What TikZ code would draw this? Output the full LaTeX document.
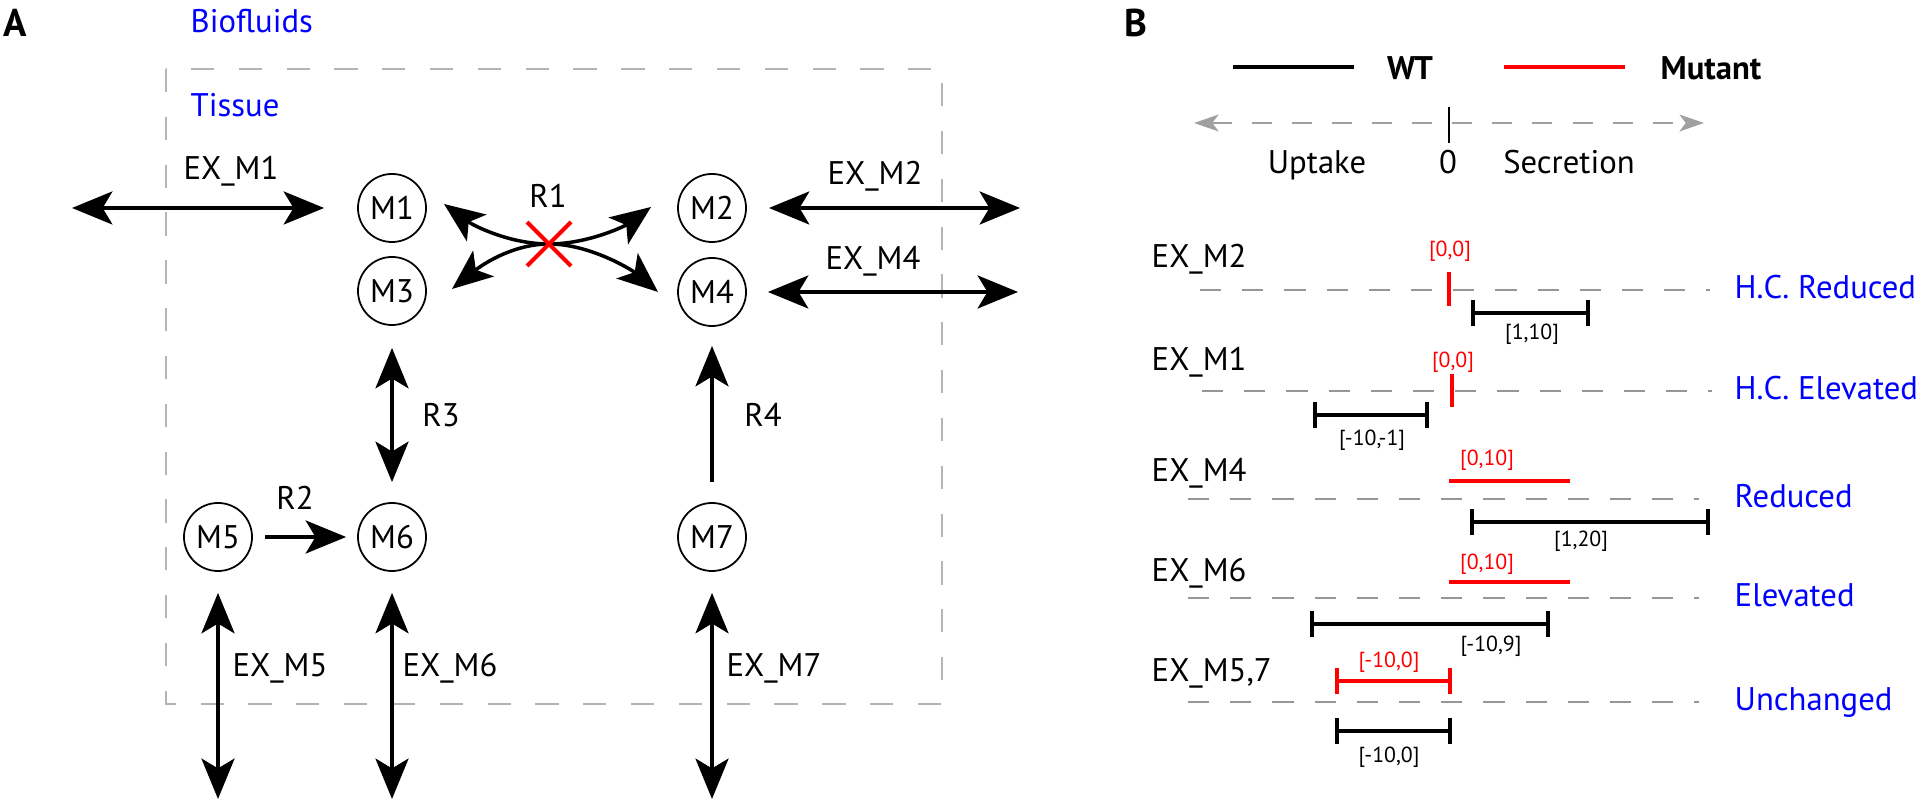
\documentclass[tikz,border=0pt]{standalone}
\usepackage{fontspec}
\setmainfont{PT Sans}
\usetikzlibrary{arrows.meta}
\definecolor{boxgray}{RGB}{180,180,180}
\definecolor{lanegray}{RGB}{150,150,150}
\definecolor{axisgray}{RGB}{160,160,160}
\newcommand{\lbl}{\fontsize{9.3}{11}\selectfont}
\newcommand{\smalllbl}{\fontsize{6.2}{7.5}\selectfont}
\newcommand{\panellbl}{\fontsize{11}{13}\selectfont\bfseries}
\tikzset{
  bighead/.tip={Stealth[length=11.5pt,width=9.4pt,inset=2.8pt]},
  met/.style={circle,draw,line width=0.5pt,minimum size=0.68cm,inner sep=0pt},
  flux/.style={line width=1pt,-{bighead}},
  twoway/.style={line width=1pt,{bighead}-{bighead}},
  lane/.style={lanegray,line width=0.65pt,dash pattern=on 6pt off 6pt},
  wtbar/.style={line width=1.15pt,{Bar[width=7.4pt]}-{Bar[width=7.4pt]}},
  mutbar/.style={wtbar,red},
  txt/.style={anchor=base,inner sep=0pt},
  lefttxt/.style={anchor=base west,inner sep=0pt},
  rng/.style={anchor=base,inner sep=0pt,font=\smalllbl}
}
\begin{document}
\begin{tikzpicture}[x=0.01cm,y=-0.01cm,font=\lbl]
\useasboundingbox (0,0) rectangle (1919,801);
% panel A
\node[txt,font=\panellbl] (pA) at (15,37) {A};
\draw[boxgray,line width=0.45pt,dash pattern=on 6.6pt off 7pt] (166,69) rectangle (942,704);
\node[lefttxt,blue] (bio) at (190,33) {Biofluids};
\node[lefttxt,blue] (tis) at (190,117) {Tissue};
% metabolites
\node[met] (M1) at (392,208) {M1};
\node[met] (M3) at (392,291) {M3};
\node[met] (M2) at (712,208) {M2};
\node[met] (M4) at (712,292) {M4};
\node[met] (M5) at (218,537) {M5};
\node[met] (M6) at (392,537) {M6};
\node[met] (M7) at (712,537) {M7};
% outer ends of the exchange arrows
\coordinate (oM1) at (72,208);
\coordinate (oM2) at (1020,208);
\coordinate (oM4) at (1018,292);
\coordinate (oM5) at (218,799);
\coordinate (oM6) at (392,799);
\coordinate (oM7) at (712,799);
\draw[twoway,shorten >=0.33cm] (oM1) -- (M1);
\draw[twoway,shorten <=0.22cm] (M2) -- (oM2);
\draw[twoway,shorten <=0.21cm] (M4) -- (oM4);
\foreach \m in {5,6,7}
  \draw[twoway,shorten <=0.21cm] (M\m) -- (oM\m);
\draw[twoway,shorten <=0.22cm,shorten >=0.2cm] (M3) -- (M6);
\draw[flux,shorten <=0.2cm,shorten >=0.19cm] (M7) -- (M4);
\draw[flux,shorten <=0.12cm,shorten >=0.11cm] (M5) -- (M6);
% R1 (knocked out)
\coordinate (r1) at (549,244);
\coordinate (tM1) at (444,204);
\coordinate (tM3) at (452,289);
\coordinate (tM2) at (651,207);
\coordinate (tM4) at (658,292);
\draw[flux] (r1) .. controls (510,244) and (474,226) .. (tM1);
\draw[flux] (r1) .. controls (510,244) and (478,268) .. (tM3);
\draw[flux] (r1) .. controls (588,244) and (625,226) .. (tM2);
\draw[flux] (r1) .. controls (590,244) and (632,270) .. (tM4);
\draw[red,line width=1.15pt] (r1) ++(-22,-22) -- ++(44,44) (r1) ++(-22,22) -- ++(44,-44);
% labels
\node[txt] (lEX1) at (231,180) {EX\_M1};
\node[txt] (lEX2) at (875,185) {EX\_M2};
\node[txt] (lEX4) at (873,270) {EX\_M4};
\node[txt] (lR1) at (548,208) {R1};
\node[txt] (lR2) at (295,510) {R2};
\node[txt] (lR3) at (441,427) {R3};
\node[txt] (lR4) at (763,427) {R4};
\node[txt] (lEX5) at (280,677) {EX\_M5};
\node[txt] (lEX6) at (450,677) {EX\_M6};
\node[txt] (lEX7) at (774,677) {EX\_M7};
% panel B
\node[txt,font=\panellbl] (pB) at (1136,37) {B};
\draw[line width=1.15pt] (1233,67) -- (1354,67);
\node[txt,font=\lbl\bfseries] (wt) at (1410,80) {WT};
\draw[red,line width=1.15pt] (1504,67) -- (1625,67);
\node[txt,font=\lbl\bfseries] (mut) at (1711,80) {Mutant};
\coordinate (upt) at (1194,123);
\coordinate (sec) at (1704,123);
\draw[axisgray,line width=0.45pt,dash pattern=on 5.7pt off 5.7pt,
  {Stealth[length=7pt,width=4.8pt,inset=1.8pt]}-{Stealth[length=7pt,width=4.8pt,inset=1.8pt]}] (upt) -- (sec);
\draw[line width=0.5pt] (1449,107) -- (1449,143);
\node[txt] (lup) at (1317,174) {Uptake};
\node[txt] (lzero) at (1448,174) {0};
\node[txt] (lsec) at (1569,174) {Secretion};
% rows
\foreach \nm/\ny/\ly/\la/\lb/\st [count=\i] in {EX\_M2/268/290/1200/1710/H.C. Reduced,
    EX\_M1/371/391/1202/1712/H.C. Elevated, EX\_M4/482/499/1188/1699/Reduced,
    EX\_M6/582/598/1188/1699/Elevated, {EX\_M5,7}/682/702/1188/1699/Unchanged}
{
  \node[lefttxt] (ex\i) at (1151,\ny) {\nm};
  \draw[lane] (\la,\ly) -- (\lb,\ly);
  \node[lefttxt,blue] (st\i) at (1734,\ly+9) {\st};
}
% EX_M2
\draw[red,line width=1.15pt] (1449,272) -- (1449,306);
\node[rng,red] (mu1) at (1450,257) {[0,0]};
\draw[wtbar] (1471,313) -- (1590,313);
\node[rng] (wt1) at (1532,340) {[1,10]};
% EX_M1
\draw[red,line width=1.15pt] (1452,374) -- (1452,407);
\node[rng,red] (mu2) at (1453,368) {[0,0]};
\draw[wtbar] (1313,415) -- (1429,415);
\node[rng] (wt2) at (1372,446) {[-10,-1]};
% EX_M4
\draw[red,line width=1.15pt] (1449,481) -- (1570,481);
\node[rng,red] (mu3) at (1487,466) {[0,10]};
\draw[wtbar] (1470,522) -- (1710,522);
\node[rng] (wt3) at (1581,547) {[1,20]};
% EX_M6
\draw[red,line width=1.15pt] (1449,582) -- (1570,582);
\node[rng,red] (mu4) at (1487,570) {[0,10]};
\draw[wtbar] (1310,624) -- (1550,624);
\node[rng] (wt4) at (1491,652) {[-10,9]};
% EX_M5,7
\draw[mutbar] (1335,681) -- (1452,681);
\node[rng,red] (mu5) at (1389,668) {[-10,0]};
\draw[wtbar] (1335,731) -- (1452,731);
\node[rng] (wt5) at (1389,762) {[-10,0]};
\end{tikzpicture}
\end{document}
